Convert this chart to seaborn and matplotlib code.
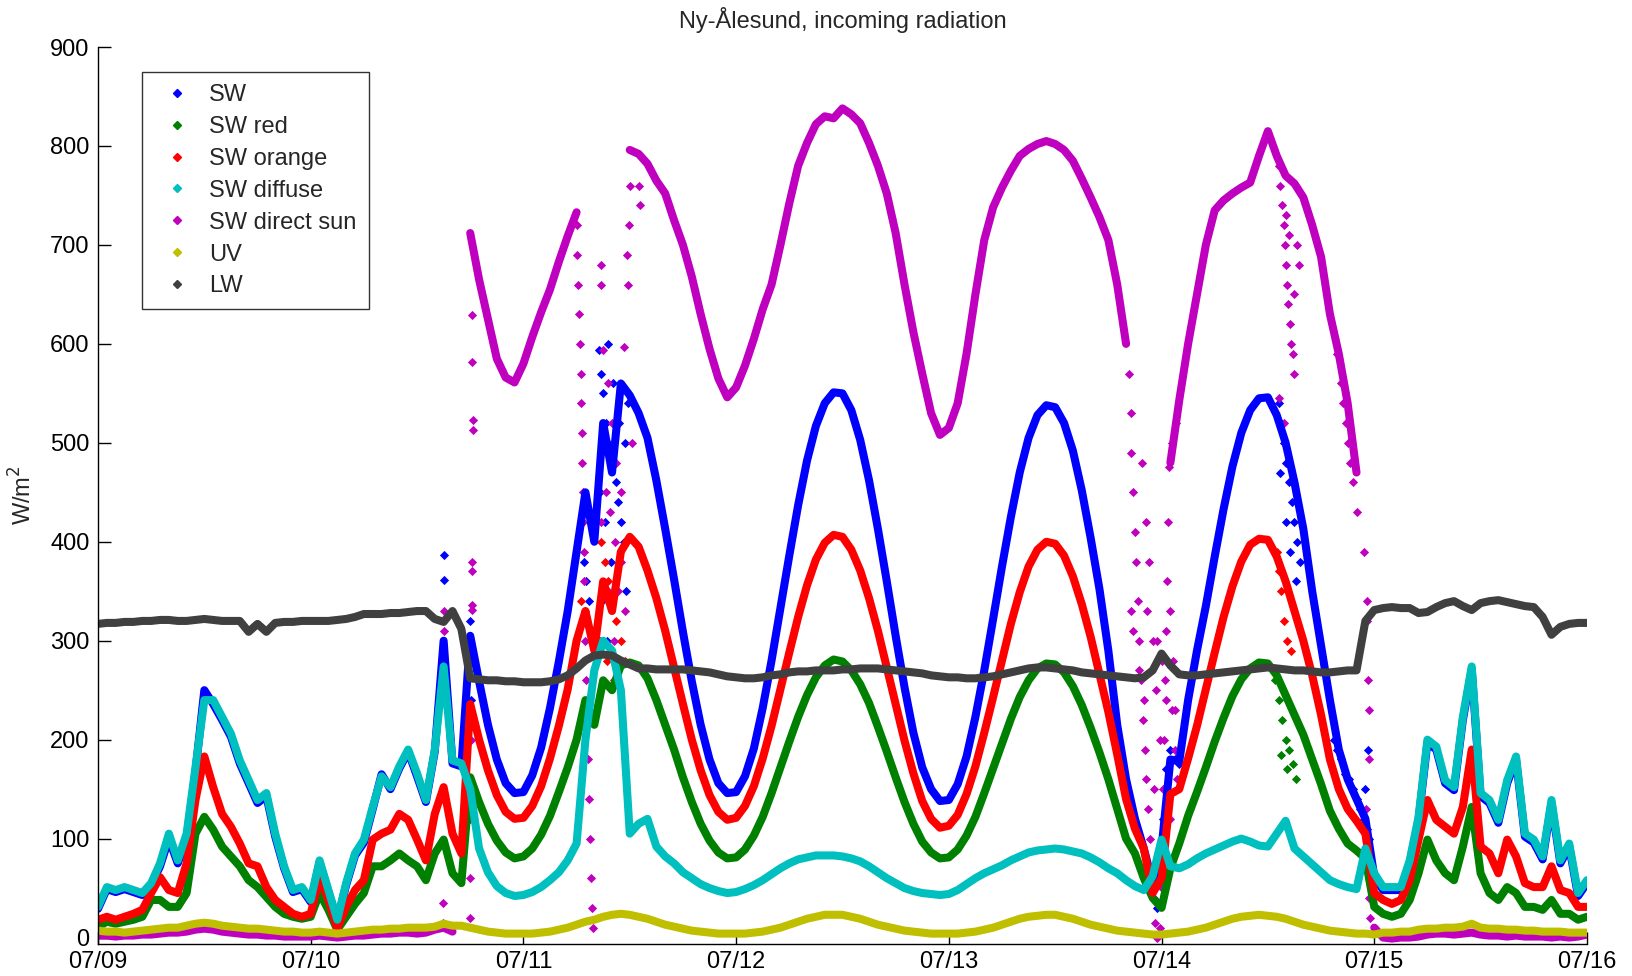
import numpy as np
import pandas as pd
import matplotlib
matplotlib.use("Agg")
import matplotlib.pyplot as plt
from matplotlib.lines import Line2D
import seaborn as sns

# ---------------------------------------------------------------------------
# Hourly readings, 07/09 00:00 to 07/16 00:00 (169 values each, W/m2)
# ---------------------------------------------------------------------------
date_labels = ["07/09", "07/10", "07/11", "07/12", "07/13", "07/14", "07/15", "07/16"]
series_names = ["SW", "SW red", "SW orange", "SW diffuse", "SW direct sun", "UV", "LW"]
nan = np.nan

sw = [29, 49, 46, 49, 46, 43, 53, 72, 100, 75, 100, 168, 250, 236, 220, 203, 176, 156, 136, 143, 102, 70, 46, 49,
      36, 76, 46, 17, 53, 83, 96, 130, 165, 150, 171, 188, 163, 137, 188, 300, 176, 173, 305, 259, 215, 180, 156, 146,
      147, 164, 192, 232, 279, 330, 390, 450, 400, 520, 470, 560, 548, 530, 505, 462, 413, 362, 309, 259, 215, 180, 156, 146,
      147, 163, 191, 232, 280, 333, 386, 437, 482, 517, 540, 551, 550, 533, 503, 462, 413, 360, 305, 253, 207, 172, 150, 138,
      139, 155, 183, 223, 270, 322, 375, 425, 470, 505, 528, 538, 536, 520, 492, 452, 404, 352, 290, 215, 160, 120, 90, 55,
      90, 180, 178, 240, 290, 335, 385, 433, 476, 510, 533, 545, 546, 528, 500, 460, 413, 350, 295, 240, 190, 160, 140, 120,
      62, 48, 48, 48, 75, 119, 197, 190, 156, 149, 220, 271, 143, 136, 116, 156, 180, 102, 96, 79, 136, 75, 92, 42,
      55]

sw_red = [11, 16, 14, 16, 18, 21, 38, 38, 31, 31, 45, 105, 122, 109, 92, 82, 72, 58, 51, 41, 31, 24, 21, 19,
          21, 45, 28, 8, 21, 34, 45, 72, 72, 78, 85, 78, 72, 58, 85, 99, 65, 55, 162, 137, 115, 98, 86, 80,
          82, 90, 104, 123, 147, 172, 200, 240, 215, 260, 250, 275, 278, 275, 262, 240, 215, 190, 162, 137, 115, 98, 86, 80,
          81, 89, 103, 122, 146, 172, 198, 223, 245, 263, 275, 281, 279, 270, 256, 237, 213, 188, 162, 137, 115, 97, 86, 80,
          81, 89, 103, 122, 146, 171, 196, 221, 243, 260, 272, 277, 276, 268, 254, 235, 212, 187, 160, 130, 100, 85, 60, 40,
          30, 70, 95, 123, 147, 172, 198, 222, 244, 261, 272, 278, 277, 265, 245, 225, 205, 180, 155, 128, 110, 95, 88, 80,
          31, 24, 21, 24, 38, 65, 99, 78, 65, 58, 92, 132, 65, 45, 38, 51, 45, 31, 31, 28, 38, 24, 24, 18,
          21]

sw_orange = [18, 21, 18, 21, 24, 28, 45, 61, 48, 45, 75, 139, 183, 152, 125, 112, 95, 75, 72, 51, 38, 31, 24, 21,
             24, 61, 38, 9, 31, 48, 58, 99, 105, 109, 125, 119, 99, 78, 125, 152, 105, 85, 236, 200, 169, 144, 127, 120,
             121, 133, 153, 181, 214, 251, 300, 330, 290, 360, 330, 390, 405, 395, 371, 343, 310, 273, 236, 200, 169, 144, 127, 119,
             121, 133, 153, 181, 214, 251, 288, 324, 356, 382, 399, 407, 405, 392, 371, 343, 310, 273, 236, 199, 166, 138, 120, 111,
             113, 124, 145, 173, 207, 243, 280, 317, 349, 375, 392, 400, 398, 386, 365, 337, 304, 266, 228, 185, 140, 110, 90, 45,
             60, 145, 150, 181, 214, 251, 288, 324, 355, 380, 397, 403, 402, 385, 360, 330, 300, 265, 225, 180, 150, 130, 118, 105,
             45, 38, 34, 38, 58, 99, 139, 119, 112, 105, 132, 190, 92, 85, 65, 99, 82, 55, 51, 51, 72, 48, 45, 31,
             31]

sw_diffuse = [31, 51, 48, 51, 48, 45, 55, 75, 105, 78, 105, 172, 240, 240, 223, 206, 179, 159, 139, 146, 105, 72, 48, 51,
              38, 78, 48, 18, 55, 85, 99, 132, 163, 152, 173, 190, 166, 139, 190, 274, 179, 176, 150, 90, 66, 52, 45, 42,
              43, 46, 51, 58, 66, 78, 95, 200, 270, 300, 290, 250, 105, 115, 120, 92, 82, 75, 66, 60, 54, 50, 47, 45,
              46, 49, 53, 58, 64, 70, 75, 79, 81, 83, 83, 83, 82, 80, 77, 72, 66, 60, 55, 50, 47, 45, 44, 43,
              44, 48, 54, 60, 65, 69, 73, 78, 82, 86, 88, 89, 90, 89, 87, 85, 81, 76, 70, 65, 58, 52, 48, 62,
              99, 72, 70, 74, 80, 85, 89, 93, 97, 100, 97, 93, 92, 105, 118, 90, 82, 74, 66, 58, 54, 51, 49, 90,
              65, 51, 51, 51, 78, 122, 200, 193, 159, 152, 223, 274, 146, 139, 119, 159, 183, 105, 99, 82, 139, 78, 95, 45,
              58]

sw_direct = [2, 2, 1, 2, 2, 3, 3, 4, 5, 5, 6, 8, 9, 8, 6, 5, 4, 3, 3, 2, 2, 1, 1, 1,
             1, 2, 1, 0, 1, 2, 2, 3, 4, 4, 5, 5, 4, 5, 8, 10, 6, nan, 712, 665, 625, 585, 566, 561,
             580, 607, 632, 655, 683, 709, 733, nan, nan, nan, nan, nan, 796, 792, 782, 765, 752, 725, 700, 668, 630, 595, 565, 546,
             556, 578, 605, 635, 660, 700, 742, 780, 803, 822, 830, 828, 838, 832, 823, 803, 780, 752, 712, 660, 612, 570, 530, 508,
             515, 540, 590, 650, 705, 738, 758, 775, 790, 797, 802, 805, 802, 796, 785, 767, 748, 728, 705, 660, 600, nan, nan, nan,
             nan, 480, 543, 600, 650, 700, 735, 745, 752, 758, 763, 790, 815, 790, 770, 762, 748, 720, 688, 630, 590, 540, 470, nan,
             10, 0, -1, 0, 0, 1, 3, 4, 4, 3, 4, 5, 3, 2, 2, 1, 2, 1, 1, 1, 0, 1, 0, 1,
             3]

uv = [7, 6, 6, 5, 6, 7, 8, 9, 10, 10, 12, 14, 15, 14, 12, 11, 10, 9, 9, 8, 7, 6, 6, 5,
      5, 6, 5, 4, 5, 6, 7, 8, 8, 9, 9, 10, 10, 10, 11, 14, 12, 12, 10, 8, 6, 5, 4, 4,
      4, 4, 5, 6, 8, 10, 13, 16, 18, 21, 23, 24, 23, 21, 19, 16, 13, 11, 9, 7, 6, 5, 4, 4,
      4, 4, 5, 6, 8, 10, 13, 16, 19, 21, 23, 23, 23, 21, 19, 16, 13, 11, 9, 7, 6, 5, 4, 4,
      4, 4, 5, 6, 8, 10, 13, 16, 19, 21, 22, 23, 23, 21, 19, 16, 13, 11, 9, 7, 6, 5, 4, 3,
      3, 4, 5, 6, 8, 10, 13, 16, 19, 21, 22, 23, 22, 21, 19, 16, 13, 11, 9, 7, 6, 5, 4, 4,
      3, 5, 5, 6, 6, 8, 9, 9, 10, 10, 11, 14, 10, 9, 9, 8, 8, 7, 7, 6, 6, 6, 5, 5,
      5]

lw = [317, 318, 318, 319, 319, 320, 320, 321, 321, 320, 320, 321, 322, 321, 320, 320, 320, 309, 317, 309, 318, 319, 319, 320,
      320, 320, 320, 321, 322, 324, 327, 327, 327, 328, 328, 329, 330, 330, 322, 319, 330, 312, 262, 261, 260, 260, 259, 259,
      258, 258, 258, 259, 261, 265, 272, 280, 285, 286, 285, 280, 276, 272, 272, 271, 271, 271, 271, 270, 269, 268, 266, 264,
      263, 262, 262, 263, 265, 266, 268, 269, 269, 270, 270, 270, 271, 271, 272, 272, 272, 271, 270, 269, 268, 267, 265, 264,
      263, 263, 262, 262, 263, 264, 266, 268, 270, 272, 273, 273, 272, 271, 270, 268, 267, 266, 265, 264, 263, 262, 263, 270,
      287, 275, 266, 265, 265, 266, 267, 268, 269, 270, 271, 272, 273, 272, 271, 270, 270, 269, 268, 268, 269, 270, 270, 320,
      331, 333, 334, 333, 333, 328, 329, 334, 338, 340, 335, 331, 338, 340, 341, 339, 337, 335, 334, 324, 306, 314, 317, 318,
      318]

# Isolated readings under broken cloud (hour of record, value)
sw_cloud_h = [39.0, 39.0, 42.0, 42.0, 42.1, 42.0, 42.1,
              54.5, 54.8, 55.1, 55.4, 56.5, 56.8, 57.0, 57.3, 57.6, 58.0, 58.4, 58.7, 59.0, 59.3,
              57.2, 57.9, 58.3, 56.6, 59.5, 59.8, 57.5, 58.1, 56.9, 58.8, 59.6, 57.4,
              119.5, 119.8, 120.2, 120.5, 121.0, 121.5, 122.0,
              133.2, 133.5, 133.8, 134.1, 134.4, 134.7, 135.0, 135.3, 135.6, 133.4, 134.0, 134.5, 135.2,
              139.5, 139.8, 140.3, 140.7, 141.2, 141.6, 142.0, 142.4, 142.8, 143.2, 143.4, 143.0, 143.3]
sw_cloud_v = [387, 361, 320, 280, 240, 200, 150,
              420, 380, 360, 340, 594, 570, 550, 520, 500, 480, 460, 440, 420, 400,
              420, 380, 350, 450, 500, 540, 600, 560, 340, 520, 350, 300,
              30, 60, 120, 170, 190, 180, 175,
              540, 520, 500, 480, 460, 440, 420, 400, 380, 470, 420, 390, 360,
              200, 190, 180, 165, 160, 150, 140, 130, 120, 110, 100, 150, 190]

red_cloud_h = [132.8, 133.2, 133.6, 134.0, 134.4, 134.8, 135.2, 133.5, 134.2]
red_cloud_v = [260, 240, 220, 200, 190, 175, 160, 185, 170]

orange_cloud_h = [54.5, 55.0, 56.8, 57.2, 57.6, 58.0, 58.5, 59.0, 59.5, 56.6, 57.4, 58.2, 55.6,
                  133.0, 133.5, 133.8, 134.2, 134.6, 133.3]
orange_cloud_v = [340, 320, 400, 380, 360, 340, 320, 300, 280, 300, 280, 260, 300,
                  390, 350, 320, 300, 290, 370]

direct_cloud_h = [38.9, 38.9, 39.0, 39.0,
                  42.0, 42.0, 42.0, 42.1, 42.1, 42.2, 42.2, 42.2, 42.2, 42.3, 42.3, 42.2, 42.2,
                  54.0, 54.1, 54.2, 54.3, 54.4, 54.5, 54.5, 54.6, 54.6, 54.7, 54.7, 54.8, 54.8, 54.9,
                  55.0, 55.1, 55.2, 55.3, 55.4, 55.5, 55.6, 55.7, 55.8,
                  56.7, 56.7, 57.0, 57.5, 58.0, 58.5, 59.0, 57.2, 57.8, 58.3, 59.3, 59.7, 59.8, 59.9,
                  60.0, 57.5, 58.2, 59.0, 56.8, 57.3, 58.7, 59.5, 56.5, 60.3, 61.0, 61.2,
                  116.3, 116.5, 116.6, 116.8, 117.0, 117.1, 117.3, 117.5, 117.7, 117.9, 118.1, 118.3,
                  118.5, 118.7, 118.9, 119.1, 119.3, 119.5,
                  119.8, 120.0, 120.1, 120.2, 120.3, 120.4, 120.5, 120.6, 120.7, 120.8, 121.2, 121.6,
                  117.8, 118.2, 118.6, 119.0, 119.4, 119.8, 120.9, 121.3, 121.5, 118.4, 119.2, 121.0, 121.8,
                  116.5, 116.8, 117.5, 118.0, 119.5, 120.0, 120.5, 121.2, 121.5,
                  133.2, 133.4, 133.6, 133.8, 133.9, 134.0, 134.2, 134.3, 134.5, 134.6, 134.8, 134.9,
                  135.3, 135.5, 134.1, 134.4, 135.0, 133.3, 133.8,
                  139.8, 140.2, 140.5, 140.8, 141.0, 141.3, 141.6, 142.0, 142.8, 143.2, 143.2, 143.3,
                  143.4, 143.4, 143.1, 143.2, 143.3, 143.4, 143.5]
direct_cloud_v = [15, 35, 330, 310,
                  20, 60, 120, 200, 290, 331, 336, 370, 380, 513, 523, 582, 629,
                  720, 690, 660, 630, 600, 570, 540, 510, 480, 450, 420, 390, 360, 330,
                  300, 260, 220, 180, 140, 100, 60, 30, 10,
                  680, 660, 594, 560, 520, 480, 450, 500, 430, 400, 597, 690, 660, 720,
                  760, 350, 300, 380, 420, 450, 350, 330, 300, 500, 760, 740,
                  570, 530, 490, 450, 410, 380, 340, 300, 260, 220, 190, 160,
                  130, 100, 70, 40, 15, 0,
                  10, 50, 100, 150, 200, 260, 310, 360, 420, 476, 500, 520,
                  480, 420, 380, 300, 250, 200, 330, 280, 230, 330, 150, 120, 160,
                  330, 310, 270, 240, 300, 280, 240, 230, 190,
                  780, 760, 740, 720, 700, 680, 660, 640, 620, 600, 590, 570,
                  700, 680, 730, 710, 650, 545, 520,
                  590, 560, 540, 520, 500, 480, 460, 430, 390, 340, 320, 260,
                  230, 180, 130, 100, 70, 40, 20]

colors = {
    "SW": (0.0, 0.0, 1.0),
    "SW red": (0.0, 0.5, 0.0),
    "SW orange": (1.0, 0.0, 0.0),
    "SW diffuse": (0.0, 0.75, 0.75),
    "SW direct sun": (0.75, 0.0, 0.75),
    "UV": (0.75, 0.75, 0.0),
    "LW": (0.25, 0.25, 0.25),
}

hourly = {
    "SW": sw, "SW red": sw_red, "SW orange": sw_orange, "SW diffuse": sw_diffuse,
    "SW direct sun": sw_direct, "UV": uv, "LW": lw,
}
scattered = {
    "SW": (sw_cloud_h, sw_cloud_v),
    "SW red": (red_cloud_h, red_cloud_v),
    "SW orange": (orange_cloud_h, orange_cloud_v),
    "SW direct sun": (direct_cloud_h, direct_cloud_v),
}

for name, vals in hourly.items():
    assert len(vals) == 169, (name, len(vals))
for name, (hh, vv) in scattered.items():
    assert len(hh) == len(vv), name


def hourly_frame(values):
    v = np.asarray(values, dtype=float)
    df = pd.DataFrame({"day": np.arange(len(v)) / 24.0, "flux": v})
    # every unbroken run of readings is drawn as its own trace
    df["run"] = df["flux"].isna().cumsum()
    return df.dropna()


sns.set_style("ticks")
plt.rcParams["font.family"] = ["Liberation Sans", "DejaVu Sans"]
plt.rcParams["axes.edgecolor"] = "black"

fig = plt.figure(figsize=(16.33, 9.76), dpi=100)
ax = fig.add_axes([0.0600, 0.0328, 0.9118, 0.9190])

for name in series_names:
    col = colors[name]
    sns.lineplot(data=hourly_frame(hourly[name]), x="day", y="flux", units="run",
                 estimator=None, color=col, linewidth=5.8, ax=ax, legend=False,
                 solid_joinstyle="round", solid_capstyle="round")
    if name in scattered:
        hh, vv = scattered[name]
        sns.scatterplot(x=np.asarray(hh) / 24.0, y=vv, marker="D", s=22, color=col,
                        linewidth=0, ax=ax, legend=False)

ax.set_xlim(0, 7)
ax.set_ylim(-6.5, 900)
ax.set_xticks(range(len(date_labels)))
ax.set_xticklabels(date_labels)
ax.set_yticks(range(0, 901, 100))
ax.tick_params(axis="both", direction="in", length=9, width=1, labelsize=17,
               colors="black")
ax.tick_params(axis="x", pad=5)
ax.tick_params(axis="y", pad=6)
sns.despine(ax=ax)
for s in ("left", "bottom"):
    ax.spines[s].set_linewidth(1.0)

ax.set_xlabel("")
ax.set_ylabel("W/m$^2$", fontsize=17)
ax.yaxis.set_label_coords(-0.041, 0.5)
ax.set_title("Ny-Ålesund, incoming radiation", fontsize=17, pad=14)

handles = [Line2D([], [], linestyle="none", marker="D", markersize=4.5,
                  color=colors[n]) for n in series_names]
leg = ax.legend(handles, series_names, loc="upper left",
                bbox_to_anchor=(0.0296, 0.972), borderaxespad=0,
                fontsize=17, frameon=True, fancybox=False, shadow=False,
                borderpad=0.5, labelspacing=0.42, handlelength=2.0,
                handletextpad=0.35)
leg.get_frame().set_edgecolor("black")
leg.get_frame().set_linewidth(1.0)

fig.savefig("out.png", dpi=100, facecolor="white")
